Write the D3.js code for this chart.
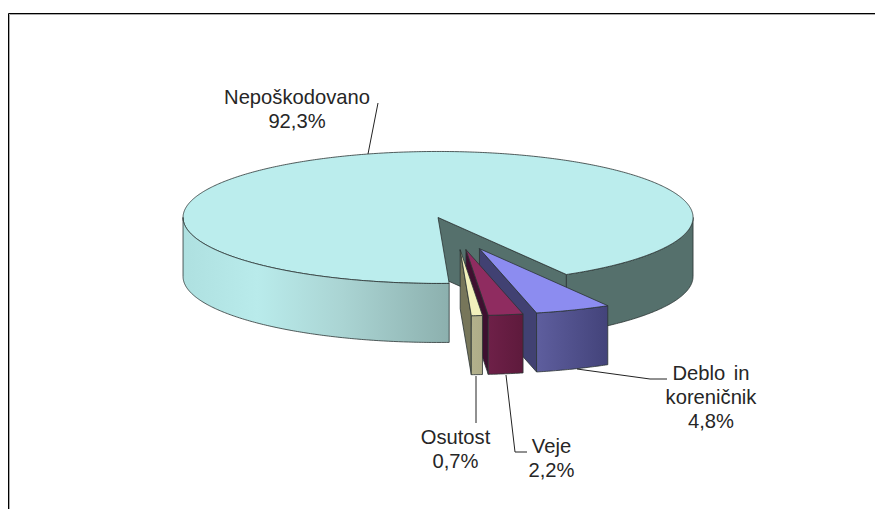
<!DOCTYPE html>
<html>
<head>
<meta charset="utf-8">
<script src="https://cdn.jsdelivr.net/npm/d3@7"></script>
<style>
  html, body { margin: 0; padding: 0; background: #fff; }
  svg { display: block; }
  text { font-family: "Liberation Sans", Arial, sans-serif; font-size: 20.2px; word-spacing: 3px; fill: #262626; text-anchor: middle; }
</style>
</head>
<body>
<svg id="chart" width="875" height="509"></svg>
<script>
// Share of damage categories, in percent
const categories = ["Nepoškodovano", "Deblo in koreničnik", "Veje", "Osutost"];
const shares = [92.3, 4.8, 2.2, 0.7];
const shareLabels = ["92,3%", "4,8%", "2,2%", "0,7%"];

// Label text broken into rows, with the anchor of the first row and the leader polyline
const labelRows = [["Nepoškodovano", "92,3%"], ["Deblo in", "koreničnik", "4,8%"], ["Veje", "2,2%"], ["Osutost", "0,7%"]];
const labelAnchors = [[297, 104], [711, 380], [551.5, 453], [455.5, 443.5]];
const leaderPaths = [
  [[378, 103], [368, 154]],
  [[577, 369], [650, 379], [667, 379]],
  [[506, 375], [515, 452], [527, 452]],
  [[476, 376], [476, 423]]
];

// Face colours per slice: top, cut wall, outer wall gradient stops
const topColors = ["#bbeded", "#8c8cf0", "#8f2c60", "#f2f0bc"];
const cutColors = ["#55706c", "#414172", "#3e1030", "#77765a"];
const wallStops = [
  [["0%", "#aee0e0"], ["28%", "#b9ebeb"], ["60%", "#aad4d3"], ["100%", "#8cb0ae"]],
  [["0%", "#5e5e9e"], ["100%", "#43437a"]],
  [["0%", "#6e2048"], ["100%", "#5e1a3c"]],
  [["0%", "#b3b18c"], ["100%", "#aeac88"]]
];
const rearWall = "#55706c";

const width = 875, height = 509;
const tilt = { rx: 255, ry: 66, depth: 59, explode: 0.25, cx: 456, cy: 233.3 };
const startDeg = 177.5;

const svg = d3.select("#chart");
const TAU = 2 * Math.PI;

// Unit-circle coordinates are flattened onto the tilted plane by these two scales
const px = d3.scaleLinear().domain([-1, 1]).range([tilt.cx - tilt.rx, tilt.cx + tilt.rx]);
const py = d3.scaleLinear().domain([-1, 1]).range([tilt.cy - tilt.ry, tilt.cy + tilt.ry]);

const pie = d3.pie().sort(null).value(d => d)
  .startAngle(startDeg * Math.PI / 180)
  .endAngle(startDeg * Math.PI / 180 + TAU);

const slices = pie(shares).map((a, i) => {
  const mid = (a.startAngle + a.endAngle) / 2;
  return {
    i,
    a0: a.startAngle,
    a1: a.endAngle,
    ox: tilt.explode * Math.sin(mid),
    oy: -tilt.explode * Math.cos(mid)
  };
});

// Screen position of a point at angle t and radius r on a slice, lowered by dz
function pt(s, t, r, dz = 0) {
  return [px(s.ox + r * Math.sin(t)), py(s.oy - r * Math.cos(t)) + dz];
}
function arcPts(s, t0, t1, dz = 0) {
  const n = Math.max(2, Math.ceil(Math.abs(t1 - t0) / 0.01));
  return d3.range(n + 1).map(k => pt(s, t0 + (t1 - t0) * k / n, 1, dz));
}
const line = d3.line();

const defs = svg.append("defs");

function wallGradient(id, stops, x0, x1) {
  const g = defs.append("linearGradient").attr("id", id)
    .attr("gradientUnits", "userSpaceOnUse")
    .attr("x1", x0).attr("x2", x1).attr("y1", 0).attr("y2", 0);
  stops.forEach(([o, c]) => g.append("stop").attr("offset", o).attr("stop-color", c));
}

const face = (d, fill) => svg.append("path")
  .attr("d", line(d) + "Z")
  .attr("fill", fill)
  .attr("stroke", "#2b3433")
  .attr("stroke-width", 0.8)
  .attr("stroke-linejoin", "round");

// Chart frame: top and left edges with a soft inner shadow line
[[8.5, 13.5, 8.5, height, "#000"], [8.5, 13.5, width, 13.5, "#000"],
 [9.5, 14.5, 9.5, height, "#aaa"], [9.5, 14.5, width, 14.5, "#aaa"]].forEach(([x1, y1, x2, y2, c]) => {
  svg.append("line").attr("x1", x1).attr("y1", y1).attr("x2", x2).attr("y2", y2).attr("stroke", c);
});

// Largest slice: walls seen through the gap and on the right, then the top, then the front-left wall
const main = slices[0];
const cutEnd = main.a1;
const apex = pt(main, 0, 0);
face([apex, pt(main, cutEnd, 1), pt(main, cutEnd, 1, tilt.depth), pt(main, 0, 0, tilt.depth)], cutColors[0]);
const rightArc = arcPts(main, TAU + Math.PI / 2, cutEnd);
face(rightArc.concat(arcPts(main, cutEnd, TAU + Math.PI / 2, tilt.depth)), rearWall);
face([apex].concat(arcPts(main, main.a0, main.a1)), topColors[0]);
wallGradient("wall0", wallStops[0], px(main.ox - 1), pt(main, main.a0, 1)[0]);
const leftArc = arcPts(main, main.a0, 1.5 * Math.PI);
face(leftArc.concat(arcPts(main, 1.5 * Math.PI, main.a0, tilt.depth)), "url(#wall0)");

// Small exploded slices, drawn from the rear one forward
slices.slice(1).forEach(s => {
  const i = s.i;
  const centre = pt(s, 0, 0);
  const corner = pt(s, s.a1, 1);
  face([centre, corner, pt(s, s.a1, 1, tilt.depth), pt(s, 0, 0, tilt.depth)], cutColors[i]);
  const [xr, xl] = [pt(s, s.a0, 1)[0], corner[0]];
  wallGradient("wall" + i, wallStops[i], xl, xr);
  face(arcPts(s, s.a0, s.a1).concat(arcPts(s, s.a1, s.a0, tilt.depth)), `url(#wall${i})`);
  face([centre].concat(arcPts(s, s.a0, s.a1)), topColors[i]);
});

// Leader lines
svg.selectAll("path.leader").data(leaderPaths).join("path")
  .attr("class", "leader")
  .attr("d", d => line(d))
  .attr("fill", "none")
  .attr("stroke", "#222")
  .attr("stroke-width", 1);

// Labels
const lineHeight = 24;
const labels = svg.selectAll("g.label").data(categories).join("g").attr("class", "label")
  .attr("transform", (d, i) => `translate(${labelAnchors[i]})`);
labels.selectAll("text").data((d, i) => labelRows[i]).join("text")
  .attr("y", (d, k) => k * lineHeight)
  .text(d => d);
</script>
</body>
</html>
